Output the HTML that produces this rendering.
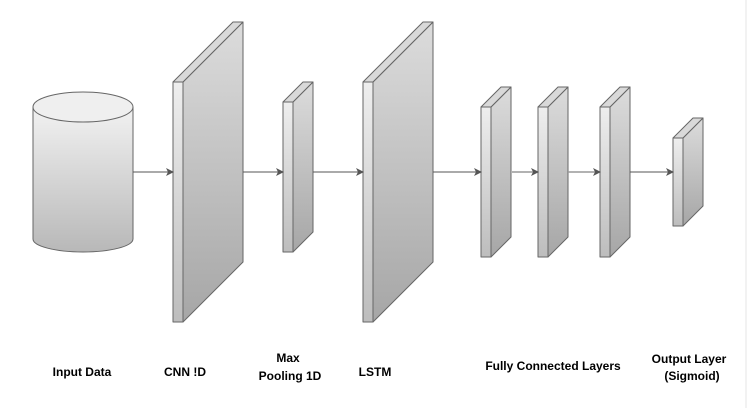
<!DOCTYPE html>
<html><head><meta charset="utf-8"><style>
html,body{margin:0;padding:0;background:#fff}
svg{display:block}
text{font-family:"Liberation Sans",Arial,sans-serif;font-weight:bold;font-size:12px;fill:#000}
</style></head><body>
<svg width="752" height="408" viewBox="0 0 752 408">
<defs>
<linearGradient id="gf" x1="0" y1="0" x2="0" y2="1"><stop offset="0" stop-color="#eeeeee"/><stop offset="1" stop-color="#bdbdbd"/></linearGradient>
<linearGradient id="gs" x1="0" y1="0" x2="0" y2="1"><stop offset="0" stop-color="#dcdcdc"/><stop offset="1" stop-color="#a6a6a6"/></linearGradient>
<linearGradient id="gc" x1="0" y1="0" x2="0" y2="1"><stop offset="0" stop-color="#f2f2f2"/><stop offset="1" stop-color="#b8b8b8"/></linearGradient>
<marker id="ah" markerWidth="8" markerHeight="8" refX="7" refY="4" orient="auto" markerUnits="userSpaceOnUse"><path d="M0,0 L8,4 L0,8 L2,4 Z" fill="#555"/></marker>
</defs>
<line x1="746" y1="0" x2="746" y2="408" stroke="#e6e6e6"/>
<g stroke="#666" stroke-width="1">
<path d="M33,107 L33,239 A50,13 0 0 0 133,239 L133,107" fill="url(#gc)"/>
<ellipse cx="83" cy="107" rx="50" ry="15" fill="#efefef"/>
</g>
<g id="blocks"></g>
<g id="arrows"></g>
<g>
<text x="82" y="376" text-anchor="middle">Input Data</text>
<text x="185" y="376" text-anchor="middle">CNN !D</text>
<text x="288" y="362" text-anchor="middle">Max</text>
<text x="290" y="380" text-anchor="middle">Pooling 1D</text>
<text x="375" y="376" text-anchor="middle">LSTM</text>
<text x="553" y="370" text-anchor="middle">Fully Connected Layers</text>
<text x="689" y="363" text-anchor="middle">Output Layer</text>
<text x="692" y="380" text-anchor="middle">(Sigmoid)</text>
</g>
</svg>
<script>
const NS="http://www.w3.org/2000/svg";
const blockNames=["cnn-layer","max-pool-layer","lstm-layer","fc-layer-1","fc-layer-2","fc-layer-3","output-layer"];
const blockX=[173,283,363,481,538,600,673];
const blockTop=[82,102,82,107,107,107,138];
const blockBottom=[322,252,322,257,257,257,226];
const blockDepth=[60,20,60,20,20,20,20];
const g=document.getElementById('blocks');
for(let i=0;i<blockX.length;i++){
  const x=blockX[i],t=blockTop[i],b=blockBottom[i],d=blockDepth[i],w=10;
  const grp=document.createElementNS(NS,'g');
  
  
  grp.setAttribute('stroke','#666');grp.setAttribute('stroke-width','1');grp.setAttribute('stroke-linejoin','round');
  const side=document.createElementNS(NS,'path');
  side.setAttribute('d',`M${x+w},${t} L${x+w+d},${t-d} L${x+w+d},${b-d} L${x+w},${b} Z`);
  side.setAttribute('fill','url(#gs)');
  const top=document.createElementNS(NS,'path');
  top.setAttribute('d',`M${x},${t} L${x+d},${t-d} L${x+w+d},${t-d} L${x+w},${t} Z`);
  top.setAttribute('fill','#d9d9d9');
  const front=document.createElementNS(NS,'rect');
  front.setAttribute('x',x);front.setAttribute('y',t);front.setAttribute('width',w);front.setAttribute('height',b-t);
  front.setAttribute('fill','url(#gf)');
  grp.appendChild(side);grp.appendChild(top);grp.appendChild(front);
  g.appendChild(grp);
}
const arrowFrom=[133,243,313,433,512,568,630];
const arrowTo=[173,283,363,481,538,600,673];
const arrowColor=["#555","#555","#555","#555","#999","#999","#555"];
const ag=document.getElementById('arrows');
for(let i=0;i<arrowFrom.length;i++){
  const l=document.createElementNS(NS,'line');
  
  
  l.setAttribute('x1',arrowFrom[i]);l.setAttribute('x2',arrowTo[i]);
  l.setAttribute('y1',172);l.setAttribute('y2',172);
  l.setAttribute('stroke',arrowColor[i]);l.setAttribute('stroke-width',arrowColor[i]=="#999"?1.5:1);
  l.setAttribute('marker-end','url(#ah)');
  ag.appendChild(l);
}
</script>
</body></html>
